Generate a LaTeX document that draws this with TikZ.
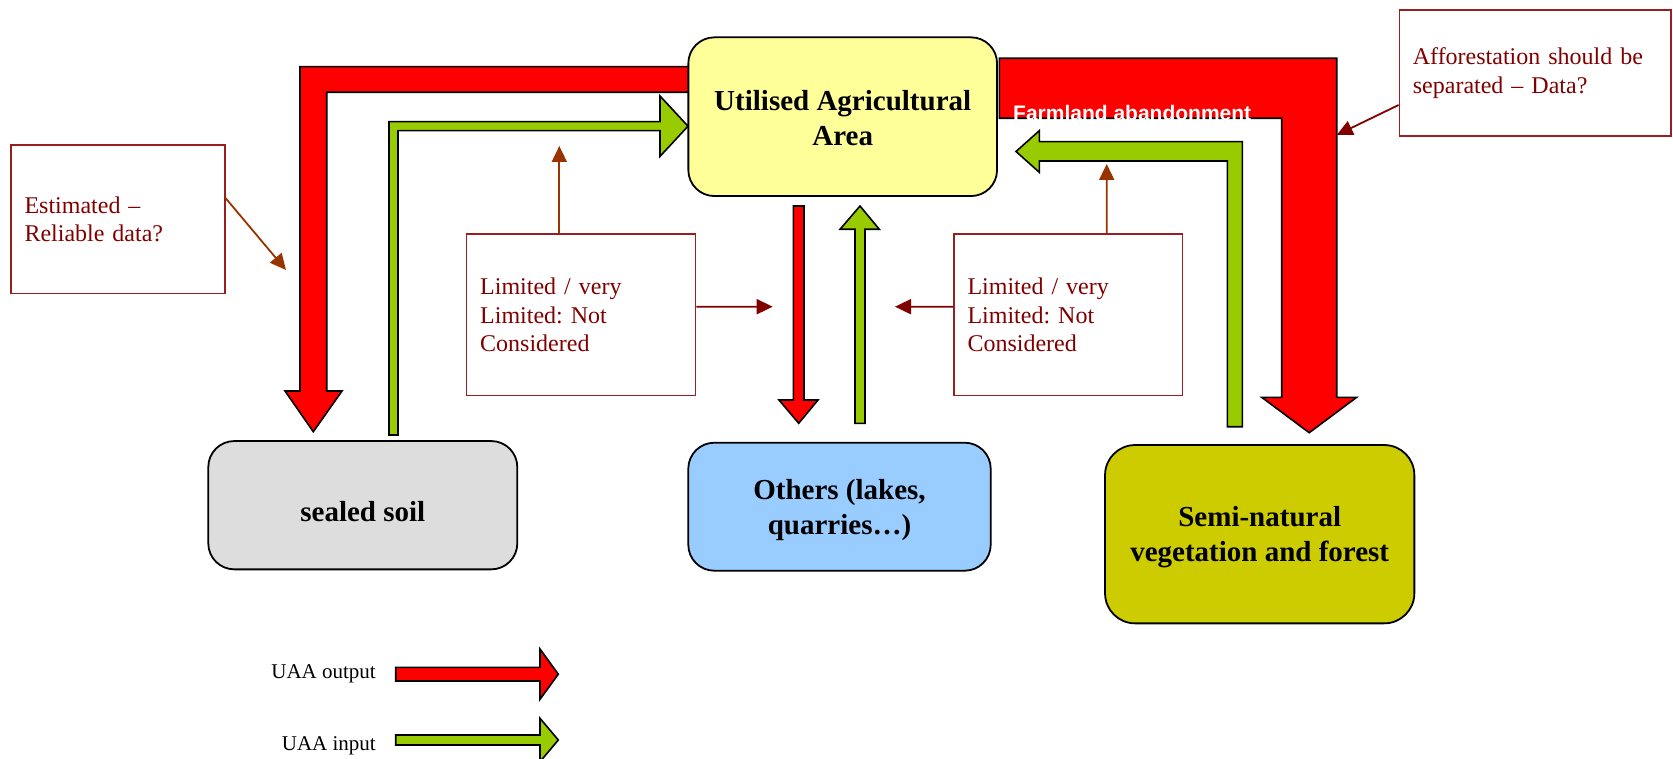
\documentclass[tikz,border=0pt]{standalone}
\usepackage{fontspec}
\setmainfont{Liberation Serif}
\newfontfamily\arialfont{Liberation Sans}
\usetikzlibrary{arrows.meta}
\frenchspacing
\definecolor{uaared}{HTML}{FF0000}
\definecolor{uaagreen}{HTML}{99CC00}
\definecolor{uaafill}{HTML}{FFFF99}
\definecolor{sealfill}{HTML}{DDDDDD}
\definecolor{othfill}{HTML}{99CCFF}
\definecolor{semifill}{HTML}{CCCC00}
\definecolor{notetext}{HTML}{800000}
\definecolor{noteborder}{HTML}{962020}
\definecolor{brownarrow}{HTML}{993300}
\tikzset{
  bigbox/.style={draw=black, line width=1.8pt, rounded corners=26pt, inner sep=0pt},
  boxtext/.style={font=\bfseries\fontsize{29}{35}\selectfont, align=center, inner sep=0pt},
  notebox/.style={draw=noteborder, line width=1.5pt, text=notetext,
    font=\fontsize{24}{28.5}\selectfont\frenchspacing, align=left, inner xsep=13.5pt, inner ysep=0pt},
  flowout/.style={fill=uaared, draw=black, line width=1.6pt, line join=miter},
  flowin/.style={fill=uaagreen, draw=black, line width=1.6pt, line join=miter},
  pointer/.style={line width=1.8pt, -{Triangle[length=16pt,width=15pt]}},
  legtext/.style={font=\fontsize{21}{25}\selectfont, inner sep=0pt, anchor=base east}
}
\begin{document}
\begin{tikzpicture}[x=1pt,y=-1pt]
\useasboundingbox (0,0) rectangle (1673,759);

% ---- big flow arrows ----
\draw[flowout] (690,66.7) -- (300,66.7) -- (300,391) -- (285,391) -- (313.3,431.7) -- (342,391) -- (326.7,391) -- (326.7,92.3) -- (690,92.3);
\draw[flowin] (389,435) -- (389,121.7) -- (660,121.7) -- (660,96) -- (688,126.2) -- (660,156.4) -- (660,130.7) -- (398,130.7) -- (398,435) -- cycle;
\draw[flowout] (999.3,58.3) -- (1336.7,58.3) -- (1336.7,397.3) -- (1356.7,397.3) -- (1309.2,432.7) -- (1261.7,397.3) -- (1281.7,397.3) -- (1281.7,118.3) -- (999.3,118.3) -- cycle;
\draw[flowin] (1227.3,426.7) -- (1227.3,161) -- (1039.3,161) -- (1039.3,172.3) -- (1016,151.5) -- (1039.3,130.7) -- (1039.3,141.7) -- (1242.3,141.7) -- (1242.3,426.7) -- cycle;
\draw[flowout] (793.3,206) -- (804,206) -- (804,400) -- (818,400) -- (798.7,423.3) -- (779,400) -- (793.3,400) -- cycle;
\draw[flowin] (855,423.3) -- (855,229.3) -- (840,229.3) -- (860,206) -- (879.3,229.3) -- (865,229.3) -- (865,423.3) -- cycle;

\node[anchor=base west, text=white, font=\arialfont\bfseries\fontsize{21}{25}\selectfont, inner sep=0pt] (farm) at (1013,120.5) {Farmland abandonment};

% ---- main boxes ----
\node[bigbox, fill=uaafill, minimum width=308.7pt, minimum height=158.7pt] (uaa) at (842.7,116.7) {};
\node[boxtext] (uaat) at (842.7,117.7) {Utilised Agricultural\\Area};

\node[bigbox, fill=sealfill, minimum width=309pt, minimum height=128.3pt] (seal) at (362.8,505.2) {};
\node[boxtext] (sealt) at (362.8,511.2) {sealed soil};

\node[bigbox, fill=othfill, minimum width=302.4pt, minimum height=128pt] (oth) at (839.5,506.7) {};
\node[boxtext] (otht) at (839.5,510.5) {Others (lakes,\\quarries…)};

\node[bigbox, fill=semifill, rounded corners=30pt, minimum width=309.3pt, minimum height=178.3pt] (semi) at (1259.7,534.2) {};
\node[boxtext] (semit) at (1259.7,537.3) {Semi-natural\\vegetation and forest};

% ---- notes ----
\node[notebox, text width=187pt, minimum height=148.3pt] (est) at (118,219.2) {Estimated –\\Reliable data?};
\node[notebox, text width=202pt, minimum height=161.7pt] (liml) at (581.2,314.85) {\raisebox{-2pt}{\parbox[t]{202pt}{Limited / very\\Limited: Not\\Considered}}};
\node[notebox, text width=201.7pt, minimum height=161.7pt] (limr) at (1068.35,314.85) {\raisebox{-2pt}{\parbox[t]{201.7pt}{Limited / very\\Limited: Not\\Considered}}};
\node[notebox, text width=244.7pt, minimum height=126pt] (aff) at (1535.2,73) {Afforestation should be\\separated – Data?};

\coordinate (t1) at (559.3,146);
\coordinate (t2) at (772.7,306.7);
\coordinate (t3) at (1106.7,164);
\coordinate (t4) at (895,306.7);
\coordinate (t5) at (286,270);
\coordinate (t6) at (1336.7,135);

\draw[pointer, brownarrow] ([xshift=-21.9pt]liml.north) -- (t1);
\draw[pointer, notetext] ([yshift=8.15pt]liml.east) -- (t2);
\draw[pointer, brownarrow] ([xshift=38.35pt]limr.north) -- (t3);
\draw[pointer, notetext] ([yshift=8.15pt]limr.west) -- (t4);
\draw[pointer, brownarrow] ([yshift=20.9pt]est.east) -- (t5);
\draw[pointer, notetext] ([yshift=-32pt]aff.west) -- (t6);

% ---- legend ----
\node[legtext] (legout) at (376,678) {UAA output};
\node[legtext] (legin) at (376,750) {UAA input};
\draw[flowout] (395.7,667.3) -- (540,667.3) -- (540,649) -- (558.3,674.2) -- (540,699.3) -- (540,681) -- (395.7,681) -- cycle;
\draw[flowin] (395.7,735) -- (540,735) -- (540,718.3) -- (558.3,740) -- (540,761.7) -- (540,745) -- (395.7,745) -- cycle;
\end{tikzpicture}
\end{document}
